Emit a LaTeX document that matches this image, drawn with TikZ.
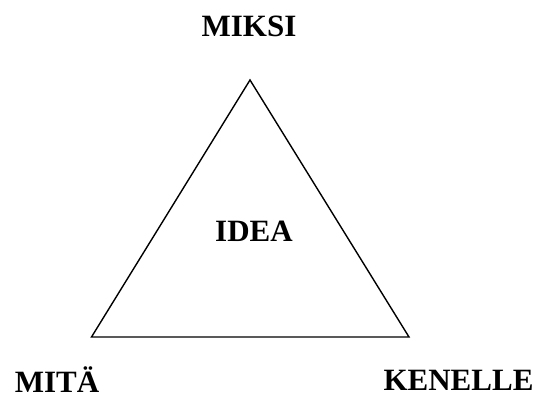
\documentclass[tikz,border=0pt]{standalone}
\usepackage{fontspec}
\setmainfont{Liberation Serif}
\begin{document}
\begin{tikzpicture}[x=1pt,y=-1pt,
  lbl/.style={font=\fontsize{31}{31}\selectfont\bfseries, anchor=base, inner sep=0pt},
  edge/.style={draw=black, line width=1.4pt, line join=miter}]
\useasboundingbox (0,0) rectangle (536,394);
\coordinate (apex) at (250,80);
\coordinate (bl) at (91.5,337);
\coordinate (br) at (409,337);
\draw[edge] (apex) -- (bl) -- (br) -- cycle;
\node[lbl] (miksi) at (249,36.5) {MIKSI};
\node[lbl] (idea) at (254,241.5) {IDEA};
\node[lbl] (mita) at (57,392.5) {MITÄ};
\node[lbl] (kenelle) at (458.5,390.5) {KENELLE};
\end{tikzpicture}
\end{document}
